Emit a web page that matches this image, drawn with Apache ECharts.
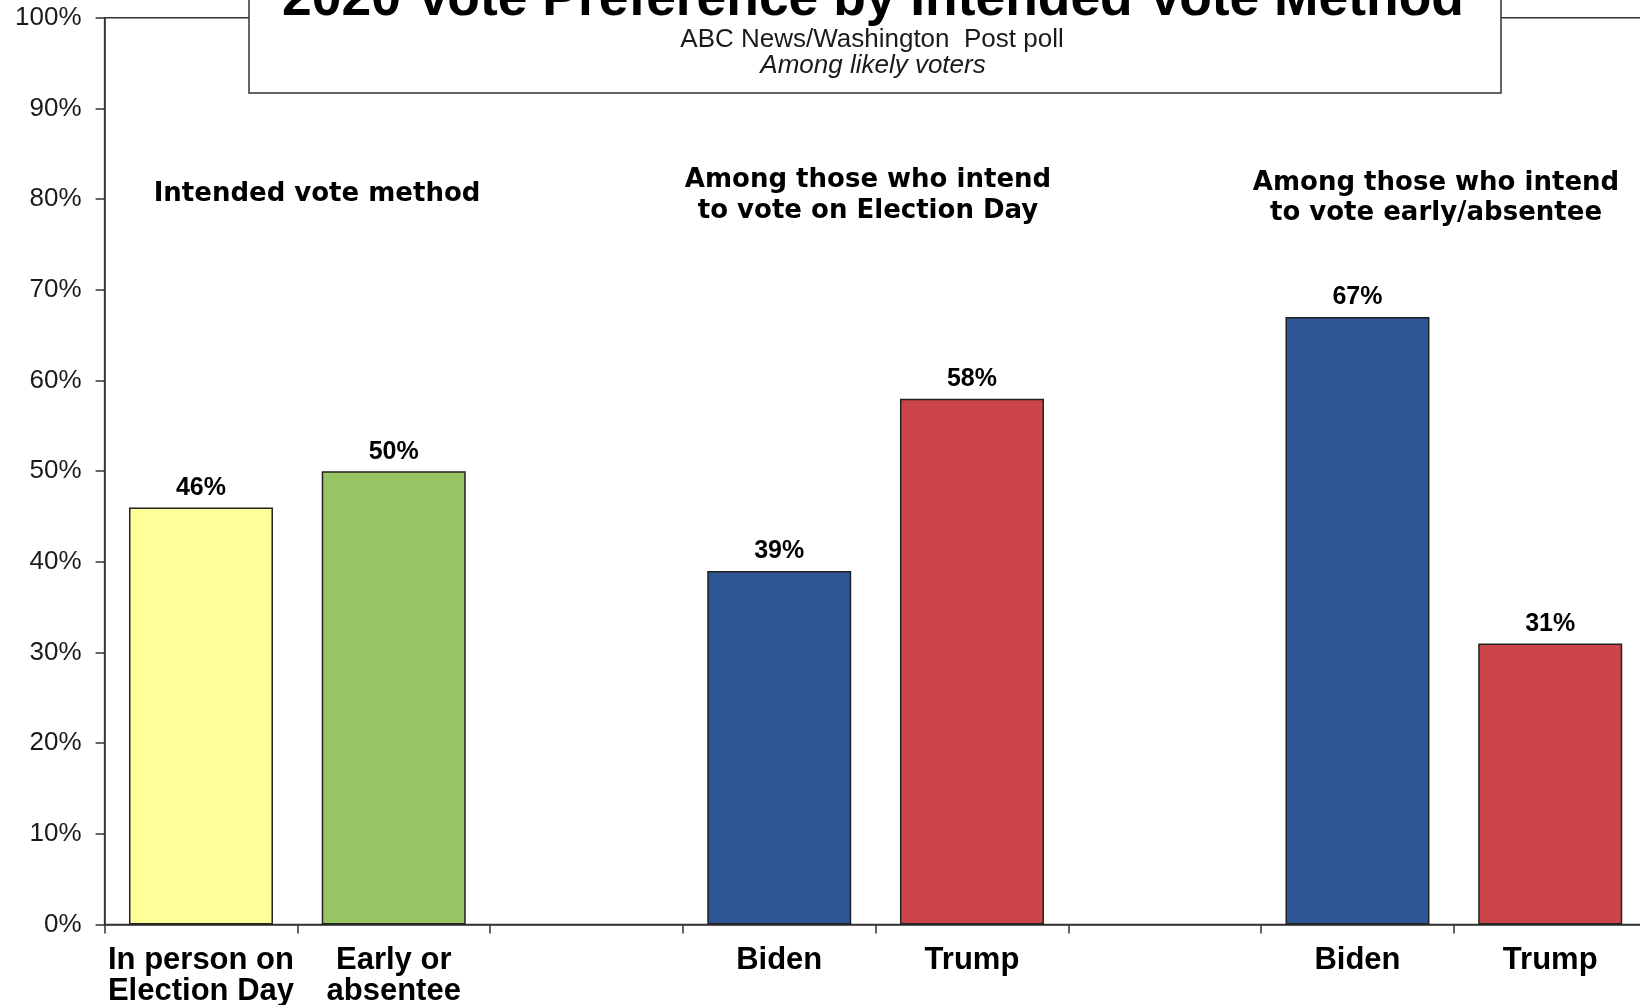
<!DOCTYPE html>
<html>
<head>
<meta charset="utf-8">
<script src="https://cdn.jsdelivr.net/npm/echarts@6/dist/echarts.min.js"></script>
<style>
html,body{margin:0;padding:0;background:#fff;}
#chart{width:1640px;height:1005px;}
</style>
</head>
<body>
<div id="chart"></div>
<script>
const categories = ["In person on\nElection Day", "Early or\nabsentee", "", "Biden", "Trump", "", "Biden", "Trump"];
const values = [46, 50, null, 39, 58, null, 67, 31];
const barColors = ["#FFFF99", "#99C463", "#FFFFFF", "#2E5594", "#CC4649", "#FFFFFF", "#2E5594", "#CC4649"];
const yTicks = [0, 10, 20, 30, 40, 50, 60, 70, 80, 90, 100];
const titleText = "2020 Vote Preference by Intended Vote Method";
const subtitle1 = "ABC News/Washington  Post poll";
const subtitle2 = "Among likely voters";
const groupLabels = ["Intended vote method", "Among those who intend\nto vote on Election Day", "Among those who intend\nto vote early/absentee"];

const FONT = "'Liberation Sans', Arial, sans-serif";
const chart = echarts.init(document.getElementById('chart'), null, {renderer: 'canvas'});

const option = {
  backgroundColor: '#ffffff',
  animation: false,
  grid: {
    left: 104.6, top: 17.8, height: 906.8, width: 1542,
    outerBoundsMode: 'none', containLabel: false,
    show: true, borderColor: '#333333', borderWidth: 1.5, backgroundColor: 'transparent'
  },
  xAxis: {
    type: 'category',
    data: categories,
    axisLine: {lineStyle: {color: '#333333', width: 1.5}},
    axisTick: {show: true, length: 9, lineStyle: {color: '#333333', width: 1.5}},
    axisLabel: {
      interval: 0, margin: 20, color: '#000000',
      fontFamily: FONT, fontWeight: 'bold', fontSize: 31, lineHeight: 31
    },
    splitLine: {show: false}
  },
  yAxis: {
    type: 'value', min: yTicks[0], max: yTicks[yTicks.length - 1], interval: 10,
    axisLine: {show: true, lineStyle: {color: '#333333', width: 1.5}},
    axisTick: {show: true, length: 9, lineStyle: {color: '#333333', width: 1.5}},
    axisLabel: {
      formatter: '{value}%', margin: 23, color: '#1a1a1a',
      fontFamily: FONT, fontSize: 26, padding: [10, 0, 0, 0]
    },
    splitLine: {show: false}
  },
  series: [{
    type: 'bar',
    barWidth: 144,
    data: values.map((v, i) => ({
      value: v,
      itemStyle: {color: barColors[i], borderColor: '#222222', borderWidth: 1.5}
    })),
    label: {
      show: true, position: 'top', distance: 7,
      formatter: p => p.value == null ? '' : p.value + '%',
      color: '#000000', fontFamily: FONT, fontWeight: 'bold', fontSize: 25
    }
  }],
  graphic: [
    {
      type: 'rect', z: 100,
      shape: {x: 249, y: -10, width: 1252, height: 103},
      style: {fill: '#ffffff', stroke: '#333333', lineWidth: 1.5}
    },
    {
      type: 'text', z: 101, x: 873, y: 0,
      style: {text: titleText, fill: '#000000', font: "bold 53.4px 'Liberation Sans', Arial, sans-serif", align: 'center', verticalAlign: 'middle'}
    },
    {
      type: 'text', z: 101, x: 872, y: 40,
      style: {text: subtitle1, fill: '#1a1a1a', font: "26px 'Liberation Sans', Arial, sans-serif", align: 'center', verticalAlign: 'middle'}
    },
    {
      type: 'text', z: 101, x: 873, y: 66,
      style: {text: subtitle2, fill: '#1a1a1a', font: "italic 26px 'Liberation Sans', Arial, sans-serif", align: 'center', verticalAlign: 'middle'}
    },
    {
      type: 'text', z: 101, x: 317, y: 194,
      style: {text: groupLabels[0], fill: '#000000', font: "bold 26px 'DejaVu Sans', sans-serif", align: 'center', verticalAlign: 'middle'}
    },
    {
      type: 'text', z: 101, x: 868, y: 196,
      style: {text: groupLabels[1], fill: '#000000', font: "bold 26px 'DejaVu Sans', sans-serif", lineHeight: 31, align: 'center', verticalAlign: 'middle'}
    },
    {
      type: 'text', z: 101, x: 1436, y: 198.5,
      style: {text: groupLabels[2], fill: '#000000', font: "bold 26px 'DejaVu Sans', sans-serif", lineHeight: 30, align: 'center', verticalAlign: 'middle'}
    }
  ]
};
chart.setOption(option);
</script>
</body>
</html>
